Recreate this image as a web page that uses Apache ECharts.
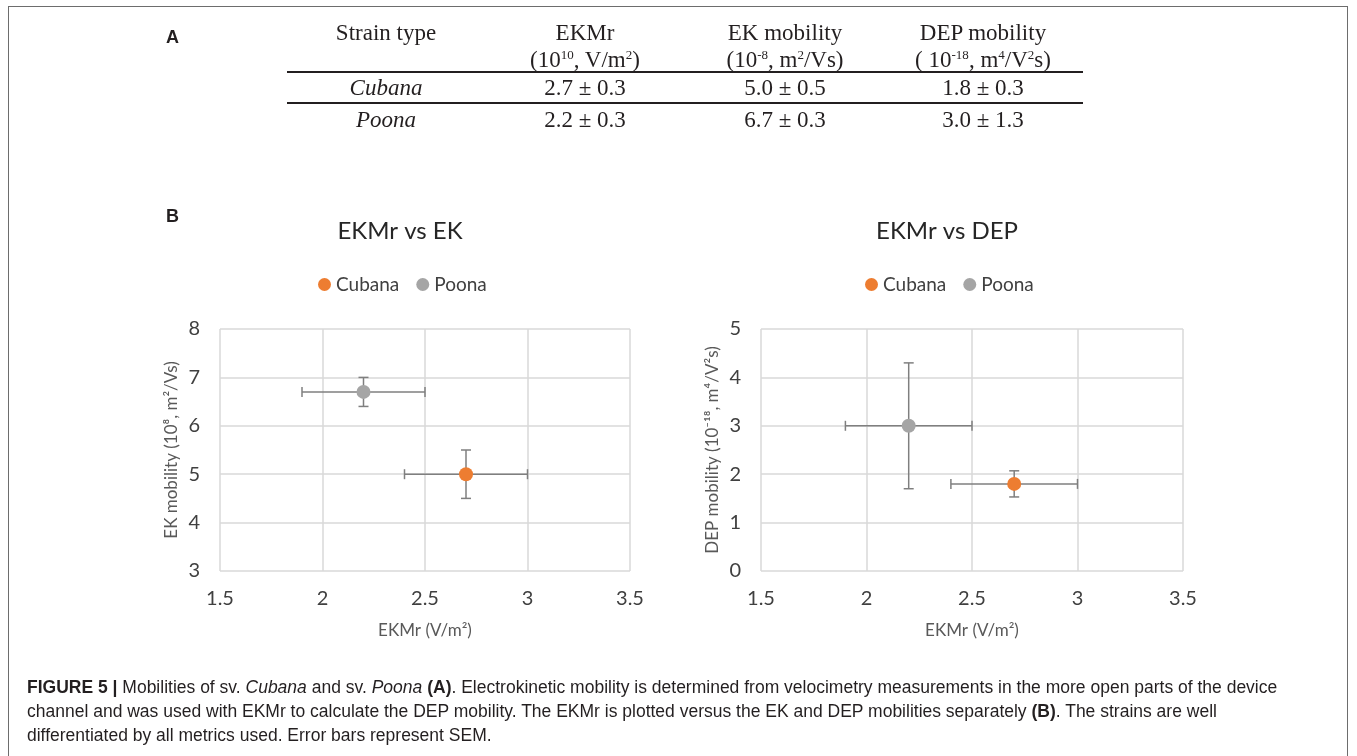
<!DOCTYPE html>
<html>
<head>
<meta charset="utf-8">
<script src="https://cdn.jsdelivr.net/npm/echarts@6/dist/echarts.min.js"></script>
<style>
  html, body { margin: 0; padding: 0; background: #fff; }
  body { width: 1357px; height: 756px; position: relative; overflow: hidden; }
  #frame { position: absolute; left: 8px; top: 6px; width: 1340px; height: 800px;
           border: 1.5px solid #6d6d6d; box-sizing: border-box; }
  #chart { position: absolute; left: 0; top: 0; width: 1357px; height: 756px; }
  .t { position: absolute; transform: translateX(-50%); white-space: nowrap;
       font-family: "Liberation Serif", serif; font-size: 23px; line-height: 26px; color: #231f20; }
  .t sup { font-size: 13px; vertical-align: 8px; line-height: 0; }
  .rule { position: absolute; left: 287px; width: 796px; height: 2px; background: #231f20; }
  .panel { position: absolute; font-family: "Liberation Sans", Arial, sans-serif; font-weight: bold;
           font-size: 18px; color: #231f20; }
  #caption { position: absolute; left: 27px; top: 675px; font-family: "Liberation Sans", Arial, sans-serif;
             font-size: 17.5px; line-height: 24px; color: #231f20; white-space: nowrap; }
</style>
</head>
<body>
<div id="frame"></div>
<div id="chart"></div>

<div class="panel" style="left:166px; top:27px;">A</div>
<div class="panel" style="left:166px; top:206px;">B</div>

<div class="t" style="left:386px; top:20px;">Strain type</div>
<div class="t" style="left:585px; top:20px;">EKMr</div>
<div class="t" style="left:585px; top:47px;">(10<sup>10</sup>, V/m<sup>2</sup>)</div>
<div class="t" style="left:785px; top:20px;">EK mobility</div>
<div class="t" style="left:785px; top:47px;">(10<sup>-8</sup>, m<sup>2</sup>/Vs)</div>
<div class="t" style="left:983px; top:20px;">DEP mobility</div>
<div class="t" style="left:983px; top:47px;">( 10<sup>-18</sup>, m<sup>4</sup>/V<sup>2</sup>s)</div>
<div class="rule" style="top:71px;"></div>
<div class="t" style="left:386px; top:75px; font-style:italic;">Cubana</div>
<div class="t" style="left:585px; top:75px;">2.7 ± 0.3</div>
<div class="t" style="left:785px; top:75px;">5.0 ± 0.5</div>
<div class="t" style="left:983px; top:75px;">1.8 ± 0.3</div>
<div class="rule" style="top:102px;"></div>
<div class="t" style="left:386px; top:107px; font-style:italic;">Poona</div>
<div class="t" style="left:585px; top:107px;">2.2 ± 0.3</div>
<div class="t" style="left:785px; top:107px;">6.7 ± 0.3</div>
<div class="t" style="left:983px; top:107px;">3.0 ± 1.3</div>

<div id="caption">
  <b>FIGURE 5 |</b> Mobilities of sv. <i>Cubana</i> and sv. <i>Poona</i> <b>(A)</b>. Electrokinetic mobility is determined from velocimetry measurements in the more open parts of the device<br>
  channel and was used with EKMr to calculate the DEP mobility. The EKMr is plotted versus the EK and DEP mobilities separately <b>(B)</b>. The strains are well<br>
  differentiated by all metrics used. Error bars represent SEM.
</div>

<script>
// data
const strains = ["Cubana", "Poona"];
const strainColors = ["#ED7D31", "#A5A5A5"];
const ekmr = [2.7, 2.2];
const ekmrErr = [0.3, 0.3];
const ekMobility = [5.0, 6.7];
const ekMobilityErr = [0.5, 0.3];
const depMobility = [1.8, 3.0];
const depMobilityErr = [0.27, 1.3];

// axis ranges [min, max, interval]
const xRange = [1.5, 3.5, 0.5];
const ekRange = [3, 8, 1];
const depRange = [0, 5, 1];

const chart = echarts.init(document.getElementById("chart"));

const font = "Lato, 'Open Sans', sans-serif";
const gridColor = "#d9d9d9";
const errColor = "#7f7f7f";

function errorBars(xs, xe, ys, ye) {
  return xs.map((x, i) => [x, ys[i], xe[i], ye[i]]);
}

// draws x and y error bars with caps
function renderErr(params, api) {
  const x = api.value(0), y = api.value(1), dx = api.value(2), dy = api.value(3);
  const c = api.coord([x, y]);
  const l = api.coord([x - dx, y]);
  const r = api.coord([x + dx, y]);
  const t = api.coord([x, y + dy]);
  const b = api.coord([x, y - dy]);
  const cap = 5;
  const style = { stroke: errColor, lineWidth: 1.5 };
  const line = (x1, y1, x2, y2) => ({ type: "line", shape: { x1, y1, x2, y2 }, style });
  return {
    type: "group",
    children: [
      line(l[0], c[1], r[0], c[1]),
      line(l[0], c[1] - cap, l[0], c[1] + cap),
      line(r[0], c[1] - cap, r[0], c[1] + cap),
      line(c[0], t[1], c[0], b[1]),
      line(c[0] - cap, t[1], c[0] + cap, t[1]),
      line(c[0] - cap, b[1], c[0] + cap, b[1]),
    ],
  };
}

function xAxis(gridIndex) {
  return {
    gridIndex,
    type: "value",
    min: xRange[0],
    max: xRange[1],
    interval: xRange[2],
    name: "EKMr (V/m²)",
    nameLocation: "middle",
    nameGap: 51,
    nameTextStyle: { fontFamily: font, fontSize: 17, color: "#595959" },
    axisLine: { show: false },
    axisTick: { show: false },
    axisLabel: { fontFamily: font, fontSize: 20, color: "#404040", margin: 18 },
    splitLine: { show: true, lineStyle: { color: gridColor, width: 1.5 } },
  };
}

function yAxis(gridIndex, range, name) {
  return {
    gridIndex,
    type: "value",
    min: range[0],
    max: range[1],
    interval: range[2],
    name,
    nameLocation: "middle",
    nameGap: 40,
    nameTextStyle: { fontFamily: font, fontSize: 17, color: "#595959" },
    axisLine: { show: false },
    axisTick: { show: false },
    axisLabel: { fontFamily: font, fontSize: 20, color: "#404040", margin: 20 },
    splitLine: { show: true, lineStyle: { color: gridColor, width: 1.5 } },
  };
}

function legend(left) {
  return {
    left,
    top: 270,
    icon: "circle",
    itemWidth: 13,
    itemHeight: 13,
    itemGap: 17,
    data: strains,
    textStyle: { fontFamily: font, fontSize: 19, color: "#404040" },
  };
}

function pointSeries(idx, ys) {
  return strains.map((s, i) => ({
    name: s,
    type: "scatter",
    xAxisIndex: idx,
    yAxisIndex: idx,
    z: 3,
    symbolSize: 14,
    itemStyle: { color: strainColors[i], opacity: 1 },
    data: [[ekmr[i], ys[i]]],
  }));
}

const option = {
  animation: false,
  title: [
    { text: "EKMr vs EK", left: 395, top: 214, textAlign: "center",
      textStyle: { fontFamily: font, fontSize: 24, fontWeight: "normal", color: "#262626" } },
    { text: "EKMr vs DEP", left: 942, top: 214, textAlign: "center",
      textStyle: { fontFamily: font, fontSize: 24, fontWeight: "normal", color: "#262626" } },
  ],
  legend: [legend(313), legend(860)],
  grid: [
    { left: 220, top: 329, width: 410, height: 242 },
    { left: 761, top: 329, width: 422, height: 242 },
  ],
  xAxis: [xAxis(0), xAxis(1)],
  yAxis: [
    yAxis(0, ekRange, "EK mobility (10⁸, m²/Vs)"),
    yAxis(1, depRange, "DEP mobility (10⁻¹⁸, m⁴/V²s)"),
  ],
  series: [
    {
      type: "custom",
      name: "errEK",
      xAxisIndex: 0,
      yAxisIndex: 0,
      z: 2,
      renderItem: renderErr,
      data: errorBars(ekmr, ekmrErr, ekMobility, ekMobilityErr),
    },
    {
      type: "custom",
      name: "errDEP",
      xAxisIndex: 1,
      yAxisIndex: 1,
      z: 2,
      renderItem: renderErr,
      data: errorBars(ekmr, ekmrErr, depMobility, depMobilityErr),
    },
    ...pointSeries(0, ekMobility),
    ...pointSeries(1, depMobility),
  ],
};

chart.setOption(option);
</script>
</body>
</html>
